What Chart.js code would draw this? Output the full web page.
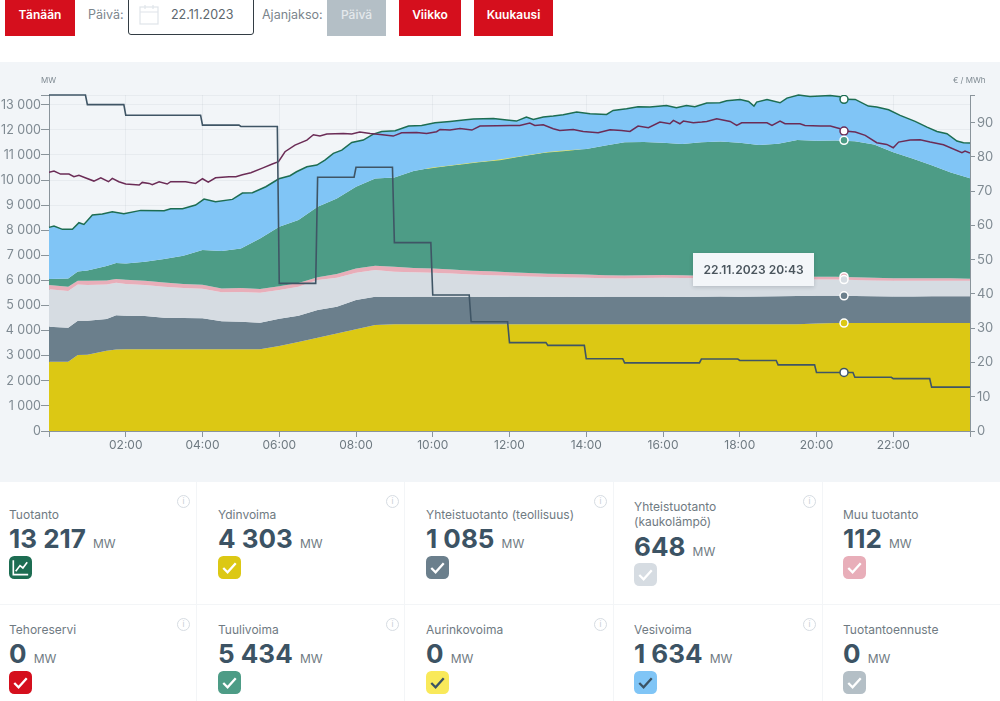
<!DOCTYPE html>
<html lang="fi">
<head>
<meta charset="utf-8">
<title>Sähköntuotanto</title>
<script src="https://cdn.jsdelivr.net/npm/chart.js@4"></script>
<style>
  * { box-sizing: border-box; }
  html, body { margin: 0; height: 100%; background: #fff; overflow: hidden; font-family: Inter, sans-serif; color: #6f7a82; }
  .abs { position: absolute; }
  .btn { position: absolute; top: 0; height: 36px; line-height: 30px; background: #d50f1d; color: #fff; font-size: 12px; font-weight: 600; text-align: center; }
  .btn.off { background: #b4bfc6; color: #e4e9ec; font-weight: 500; }
  .lbl { position: absolute; top: 6px; font-size: 12.5px; line-height: 18px; color: #7b858c; }
  #dateBox { position: absolute; left: 128px; top: -3px; width: 126px; height: 38px; border: 1px solid #333d44; border-radius: 3px; }
  #chartBand { position: absolute; left: 0; top: 62px; width: 1000px; height: 420px; background: #f2f5f8; }
  #chartBand canvas { position: absolute; left: 0; top: 0; }
  .unitTop { position: absolute; top: 13px; font-size: 8px; color: #7f8a92; }
  #tip { position: absolute; left: 693px; top: 253px; width: 121px; height: 33px; background: #f3f6f9; box-shadow: 0 1px 4px rgba(40,50,60,.2); font-size: 12px; font-weight: 600; color: #4a555d; text-align: center; line-height: 33px; }
  .divider { position: absolute; background: #f3f5f7; }
  .name { position: absolute; font-size: 12px; line-height: 15px; color: #6f7a82; white-space: nowrap; }
  .val { position: absolute; font-size: 26px; line-height: 30px; font-weight: 700; color: #3c5364; white-space: nowrap; }
  .val small { font-size: 12px; font-weight: 400; color: #6f7a82; margin-left: 1px; }
  .tick { position: absolute; width: 23px; height: 23px; }
  .info { position: absolute; width: 13px; height: 13px; border: 1px solid #d6dce2; border-radius: 50%; font-size: 8px; line-height: 11px; text-align: center; color: #c4ccd3; }
</style>
</head>
<body>
<div class="btn" style="left:5px;width:70px">Tänään</div>
<div class="lbl" style="left:88px">Päivä:</div>
<div id="dateBox"></div>
<svg class="abs" style="left:139px;top:4px" width="22" height="21" fill="none" stroke="#dfe4e9" stroke-width="1.2"><rect x="1" y="3" width="18" height="17"/><path d="M1 8h18M6 1v4M14 1v4"/></svg>
<div class="lbl" style="left:171px;color:#5c666d">22.11.2023</div>
<div class="lbl" style="left:262px">Ajanjakso:</div>
<div class="btn off" style="left:327px;width:59px">Päivä</div>
<div class="btn" style="left:399px;width:62px">Viikko</div>
<div class="btn" style="left:474px;width:79px">Kuukausi</div>

<div id="chartBand">
  <canvas id="tuotantoChart" width="1000" height="420"></canvas>
  <div class="unitTop" style="left:41px">MW</div>
  <div class="unitTop" style="left:953px">€ / MWh</div>
</div>
<div id="tip">22.11.2023 20:43</div>
<div id="cards"></div>

<script>
  // x positions of the production stack, hours of the day
  const stackHours = [0, 0.5, 0.75, 1, 1.5, 1.75, 2, 2.5, 3, 3.5, 4, 4.5, 5, 5.5, 6, 6.5, 7, 7.5, 8, 8.5,
    9, 9.5, 10, 10.5, 11, 11.5, 12, 12.5, 13, 13.5, 14, 14.5, 15, 15.5, 16, 16.5, 17, 17.5, 18, 18.5,
    19, 19.5, 20, 20.5, 21, 21.5, 22, 22.5, 23, 23.5, 24];

  // upper edge of each stacked band, MW
  const ydinvoimaTop = [2762, 2762, 3030, 3040, 3200, 3250, 3260, 3260, 3260, 3260, 3260, 3260, 3260, 3260, 3386, 3550, 3720, 3890, 4050, 4220,
    4250, 4250, 4250, 4250, 4250, 4250, 4250, 4250, 4250, 4250, 4250, 4250, 4250, 4250, 4250, 4250, 4250, 4250, 4250, 4250,
    4250, 4250, 4280, 4303, 4300, 4300, 4300, 4300, 4300, 4300, 4300];
  const teollisuusTop = [4157, 4117, 4395, 4395, 4460, 4610, 4595, 4580, 4515, 4500, 4490, 4370, 4355, 4315, 4475, 4595, 4820, 4950, 5220, 5350,
    5340, 5350, 5355, 5345, 5350, 5340, 5350, 5350, 5345, 5350, 5345, 5350, 5350, 5355, 5350, 5345, 5355, 5360, 5355, 5360,
    5365, 5375, 5390, 5385, 5375, 5365, 5360, 5360, 5365, 5370, 5365];
  const kaukolampoTop = [5644, 5578, 5843, 5817, 5843, 5910, 5857, 5817, 5750, 5697, 5670, 5525, 5538, 5511, 5617, 5750, 6016, 6109, 6308, 6414,
    6348, 6330, 6308, 6280, 6240, 6210, 6188, 6160, 6140, 6120, 6109, 6090, 6080, 6095, 6110, 6100, 6085, 6075, 6070, 6065,
    6060, 6045, 6040, 6036, 6020, 6000, 5990, 5990, 5985, 5985, 5985];
  const muuTop = [5817, 5750, 5990, 5985, 6000, 6060, 6030, 5990, 5920, 5860, 5830, 5680, 5700, 5660, 5770, 5900, 6130, 6255, 6480, 6587,
    6550, 6500, 6480, 6440, 6390, 6365, 6330, 6300, 6270, 6260, 6240, 6210, 6200, 6205, 6215, 6205, 6190, 6180, 6170, 6165,
    6160, 6155, 6150, 6148, 6130, 6110, 6085, 6085, 6090, 6085, 6070];
  const tuuliTop = [6056, 6082, 6361, 6400, 6574, 6693, 6680, 6746, 6853, 6985, 7210, 7171, 7277, 7670, 8140, 8406, 8937, 9270, 9734, 10066,
    10106, 10358, 10505, 10595, 10690, 10770, 10875, 11000, 11115, 11185, 11240, 11380, 11510, 11520, 11490, 11440, 11510, 11540, 11490, 11400,
    11450, 11600, 11570, 11580, 11550, 11420, 11110, 10860, 10590, 10300, 10070];

  const tuotantoHours = [0, 0.13, 0.35, 0.61, 0.78, 0.91, 1.13, 1.39, 1.65, 1.95, 2.39, 3, 3.17, 3.48, 3.82, 4.04, 4.34, 4.78, 5.04, 5.3, 5.65, 5.99,
    6.28, 6.45, 6.72, 6.98, 7.19, 7.41, 7.63, 7.89, 8.19, 8.45, 8.67, 9.02, 9.37, 9.71, 10.06, 10.45, 10.8, 11.06, 11.58, 11.93,
    12.18, 12.44, 12.62, 12.88, 13.14, 13.4, 13.75, 14.1, 14.53, 14.7, 15.05, 15.35, 15.66, 16.09, 16.35, 16.61, 16.83, 17.14, 17.48, 17.66,
    18.01, 18.23, 18.37, 18.44, 18.71, 19.05, 19.23, 19.53, 19.83, 20.36, 20.62, 20.74, 21.01, 21.35, 21.57, 21.88, 22.18, 22.57, 22.88, 23.14, 23.4, 23.66, 23.83, 24];
  const tuotanto = [8114, 8167, 8035, 8035, 8300, 8234, 8606, 8646, 8739, 8659, 8792, 8778, 8858, 8858, 9004, 9243, 9137, 9230, 9482, 9496, 9735, 10053,
    10173, 10332, 10531, 10598, 10797, 11063, 11195, 11501, 11594, 11833, 11939, 11966, 12152, 12178, 12284, 12338, 12391, 12430, 12457, 12391,
    12351, 12510, 12417, 12510, 12550, 12603, 12709, 12643, 12616, 12776, 12842, 12922, 12908, 12975, 12882, 12975, 12922, 13068, 13081, 13161,
    13214, 13134, 12948, 13108, 13214, 13081, 13267, 13386, 13333, 13373, 13320, 13217, 13214, 12948, 12908, 12802, 12576, 12337, 12112, 11939, 11846, 11554, 11487, 11474];

  // solar shows only as a thin edge on top of wind
  const aurinkoHours = [9.84, 10.1, 10.45, 10.8, 11.15, 11.41, 11.75, 12.01, 12.26, 12.92, 13.4, 13.66, 13.92];
  const aurinkoTop = [10475, 10530, 10600, 10660, 10731, 10770, 10820, 10890, 10956, 11116, 11182, 11222, 11275];

  const kulutusHours = [0, 0.13, 0.3, 0.52, 0.65, 0.78, 0.96, 1.17, 1.35, 1.55, 1.65, 1.82, 2, 2.35, 2.43, 2.61, 2.69, 2.87, 3.08, 3.17, 3.56, 3.82, 4, 4.15, 4.34, 4.69, 4.87, 5.04, 5.26, 5.56, 5.82, 5.98,
    6.15, 6.41, 6.72, 6.89, 7.06, 7.24, 7.67, 7.89, 8.1, 8.37, 8.63, 8.97, 9.19, 9.58, 9.84, 10.1, 10.19, 10.45, 10.71, 11.02, 11.23, 11.67,
    12.01, 12.27, 12.53, 12.66, 12.88, 13.14, 13.31, 13.66, 13.92, 14.31, 14.62, 14.92, 15.14, 15.35, 15.62, 15.92, 16.18, 16.27, 16.44, 16.53, 16.79, 17.01, 17.14, 17.4, 17.75, 17.92,
    18.05, 18.27, 18.71, 18.84, 19.05, 19.18, 19.57, 19.7, 20.1, 20.36, 20.62, 20.74, 21.01, 21.27, 21.57, 21.83, 22, 22.14, 22.44, 22.7, 22.96, 23.31, 23.79, 23.87, 24];
  const kulutus = [10306, 10359, 10239, 10239, 10133, 10186, 10080, 9960, 10093, 9934, 10067, 9934, 9841, 9801, 9907, 9867, 9814, 9934, 9841, 9934, 9934, 9867, 10053, 9920, 10093, 10133, 10133, 10213, 10292, 10478, 10638, 10731,
    11129, 11395, 11594, 11806, 11753, 11833, 11859, 11833, 11913, 11859, 11820, 11753, 11886, 11899, 11859, 11926, 12019, 11992, 12059, 11992, 12152, 12165,
    12178, 12178, 12271, 12178, 12205, 12045, 11979, 12019, 11939, 11886, 12005, 11979, 11939, 12151, 12085, 12311, 12244, 12377, 12244, 12351, 12284, 12311, 12337, 12444, 12337, 12178,
    12284, 12284, 12284, 12178, 12351, 12244, 12244, 12178, 12151, 12151, 12045, 11952, 11912, 11780, 11487, 11421, 11288, 11514, 11594, 11607, 11514, 11408, 11089, 11155, 11076];

  // spot price, each change takes one sampling step
  const hintaHours = [0, 0.95, 1, 1.95, 2, 3.95, 4, 4.95, 5, 5.95, 6, 6.95, 7, 7.95, 8, 8.95, 9, 9.95, 10, 10.95, 11, 11.95, 12, 12.95, 13,
    13.95, 14, 14.95, 15, 16.95, 17, 17.95, 18, 18.95, 19, 19.95, 20, 20.95, 21, 21.95, 22, 22.95, 23, 24];
  const hinta = [98.1, 98.1, 95.3, 95.3, 92.2, 92.2, 89.3, 89.3, 88.9, 88.9, 43.1, 43.1, 74.1, 74.1, 77, 77, 55, 55, 39.7, 39.7, 31.9, 31.9, 25.8, 25.8, 25,
    25, 21.1, 21.1, 19.9, 19.9, 21, 21, 20.6, 20.6, 19.3, 19.3, 17.1, 17.1, 15.7, 15.7, 15.3, 15.3, 12.8, 12.8];

  // hovered moment 20:43
  const hoverHour = 20.717;
  const hoverMw = [4303, 5388, 6036, 6148, 11582, 11952, 13217];
  const hoverHinta = 17.1;

  const hourTicks = [0, 2, 4, 6, 8, 10, 12, 14, 16, 18, 20, 22, 24];
  const hourLabels = ['', '02:00', '04:00', '06:00', '08:00', '10:00', '12:00', '14:00', '16:00', '18:00', '20:00', '22:00', ''];
  const mwTicks = [0, 1000, 2000, 3000, 4000, 5000, 6000, 7000, 8000, 9000, 10000, 11000, 12000, 13000, 13390];
  const hintaTicks = [0, 10, 20, 30, 40, 50, 60, 70, 80, 90, 98.1];

  const cardNames = ['Tuotanto', 'Ydinvoima', 'Yhteistuotanto (teollisuus)', 'Yhteistuotanto<br>(kaukolämpö)', 'Muu tuotanto',
    'Tehoreservi', 'Tuulivoima', 'Aurinkovoima', 'Vesivoima', 'Tuotantoennuste'];
  const cardValues = ['13 217', '4 303', '1 085', '648', '112', '0', '5 434', '0', '1 634', '0'];
  const cardColors = ['#1d6d52', '#dcc814', '#6b7f8c', '#d6dce2', '#e8aeb9', '#d50f1d', '#4d9c86', '#f9e95a', '#80c5f6', '#b4bfc6'];

  const YELLOW = '#dcc814', SLATE = '#6b7f8c', MIST = '#d6dce2', PINK = '#e8aeb9', GREEN = '#4d9c86', BLUE = '#80c5f6';
  const TOTAL = '#1d6d52', PURPLE = '#6b2c56', PRICE = '#3f5565', AXIS = '#8a949b';

  function pts(xs, ys) { return ys.map(function (y, i) { return { x: xs[i], y: y }; }); }

  function band(label, ys, color, fill, order) {
    return { label: label, data: pts(stackHours, ys), yAxisID: 'y', borderWidth: 0, borderColor: color,
      backgroundColor: color, fill: fill, pointRadius: 0, tension: 0, order: order };
  }

  // bands get a white ring around their colour, lines a white dot inside theirs
  function marker(y, fillColor, ringColor, axis) {
    return { type: 'scatter', data: [{ x: hoverHour, y: y }], yAxisID: axis, pointRadius: 4, borderWidth: 1.5,
      pointBorderColor: ringColor, pointBackgroundColor: fillColor, order: 0 };
  }

  const numFmt = function (v) { return String(v).replace(/\B(?=(\d{3})+$)/, ' '); };
  const fixedTicks = function (list) { return function (scale) { scale.ticks = list.map(function (v) { return { value: v }; }); }; };

  new Chart(document.getElementById('tuotantoChart'), {
    type: 'line',
    data: {
      datasets: [
        band('Ydinvoima', ydinvoimaTop, YELLOW, 'origin', 9),
        band('Yhteistuotanto (teollisuus)', teollisuusTop, SLATE, '-1', 8),
        band('Yhteistuotanto (kaukolämpö)', kaukolampoTop, MIST, '-1', 7),
        band('Muu tuotanto', muuTop, PINK, '-1', 6),
        band('Tuulivoima', tuuliTop, GREEN, '-1', 5),
        { label: 'Tuotanto', data: pts(tuotantoHours, tuotanto), yAxisID: 'y', borderColor: TOTAL, borderWidth: 1.5,
          backgroundColor: BLUE, fill: '-1', pointRadius: 0, tension: 0, clip: false, order: 3 },
        { label: 'Aurinkovoima', data: pts(aurinkoHours, aurinkoTop), yAxisID: 'y', borderColor: '#f4e85c', borderWidth: 1.5,
          pointRadius: 0, tension: 0, order: 4 },
        { label: 'Kulutus', data: pts(kulutusHours, kulutus), yAxisID: 'y', borderColor: PURPLE, borderWidth: 1.5,
          pointRadius: 0, tension: 0, order: 2 },
        { label: 'Hinta', data: pts(hintaHours, hinta), yAxisID: 'y1', borderColor: PRICE, borderWidth: 1.6,
          pointRadius: 0, tension: 0, clip: false, order: 1 },
        marker(hoverMw[0], YELLOW, '#fff', 'y'), marker(hoverMw[1], SLATE, '#fff', 'y'), marker(hoverMw[2], MIST, '#fff', 'y'),
        marker(hoverMw[3], PINK, '#fff', 'y'), marker(hoverMw[4], GREEN, '#fff', 'y'), marker(hoverMw[5], '#fff', PURPLE, 'y'),
        marker(hoverMw[6], '#fff', TOTAL, 'y'), marker(hoverHinta, '#fff', PRICE, 'y1')
      ]
    },
    options: {
      responsive: false,
      animation: false,
      events: [],
      layout: { padding: { top: 33, left: 0, right: 0, bottom: 0 } },
      plugins: { legend: { display: false }, tooltip: { enabled: false } },
      scales: {
        x: {
          type: 'linear', min: 0, max: 24,
          afterFit: function (s) { s.height = 51; },
          afterBuildTicks: fixedTicks(hourTicks),
          grid: { color: 'rgba(60,80,100,0.06)', tickColor: AXIS, tickLength: 6, drawTicks: true },
          border: { color: AXIS },
          ticks: { autoSkip: false, maxRotation: 0, color: '#6f7a82', padding: 1, font: { family: 'Inter', size: 12 },
            callback: function (v) { return hourLabels[hourTicks.indexOf(v)]; } }
        },
        y: {
          position: 'left', min: 0, max: 13390,
          afterFit: function (s) { s.width = 49; },
          afterBuildTicks: fixedTicks(mwTicks),
          grid: { color: 'rgba(60,80,100,0.06)', tickColor: AXIS, tickLength: 8 },
          border: { color: AXIS },
          ticks: { autoSkip: false, color: '#7f8a92', padding: 0, font: { family: 'Inter', size: 12.5 },
            callback: function (v) { return v === 13390 ? '' : numFmt(v); } }
        },
        y1: {
          position: 'right', min: 0, max: 98.1,
          afterFit: function (s) { s.width = 30; },
          afterBuildTicks: fixedTicks(hintaTicks),
          grid: { drawOnChartArea: false, tickColor: AXIS, tickLength: 5 },
          border: { color: AXIS },
          ticks: { autoSkip: false, color: '#7f8a92', padding: 2, font: { family: 'Inter', size: 13 },
            callback: function (v) { return v === 98.1 ? '' : v; } }
        }
      }
    }
  });

  // stat cards under the chart
  const textLeft = [9, 218, 426, 634, 843];
  const infoLeft = [177, 386, 594, 803];
  const dividerLeft = [196, 404, 613, 822];
  const host = document.getElementById('cards');

  function place(cls, left, top, html, style) {
    const el = document.createElement('div');
    el.className = cls;
    el.style.cssText = 'left:' + left + 'px;top:' + top + 'px;' + (style || '');
    el.innerHTML = html;
    host.appendChild(el);
  }

  dividerLeft.forEach(function (x) { place('divider', x, 482, '', 'width:1px;height:219px'); });
  place('divider', 0, 604, '', 'width:1000px;height:1px');

  cardNames.forEach(function (name, i) {
    const col = i % 5, row = i < 5 ? 0 : 1;
    const two = i === 3;
    const x = textLeft[col];
    const darkTick = i === 7 || i === 8;
    const glyph = i === 0
      ? '<path d="M4.5 4.5v15h15.5" stroke="#fff" stroke-width="1.7" fill="none"/><path d="M7 16l4.5-6 3 2.5 4.5-6" stroke="#fff" stroke-width="1.7" fill="none"/>'
      : '<path d="M5.5 12.5l4.5 4.5 8.5-9.5" stroke="' + (darkTick ? '#3c5364' : '#fff') + '" stroke-width="2.4" fill="none"/>';
    place('name', x, row ? 622 : (two ? 499 : 507), name);
    place('val', x, row ? 639 : (two ? 532 : 524), cardValues[i] + ' <small>MW</small>');
    place('tick', x, row ? 671 : (two ? 563 : 556),
      '<svg viewBox="0 0 24 24" width="23" height="23"><rect width="24" height="24" rx="5.5" fill="' + cardColors[i] + '"/>' + glyph + '</svg>');
    if (col < 4) place('info', infoLeft[col], row ? 618 : 495, 'i');
  });
</script>
</body>
</html>
